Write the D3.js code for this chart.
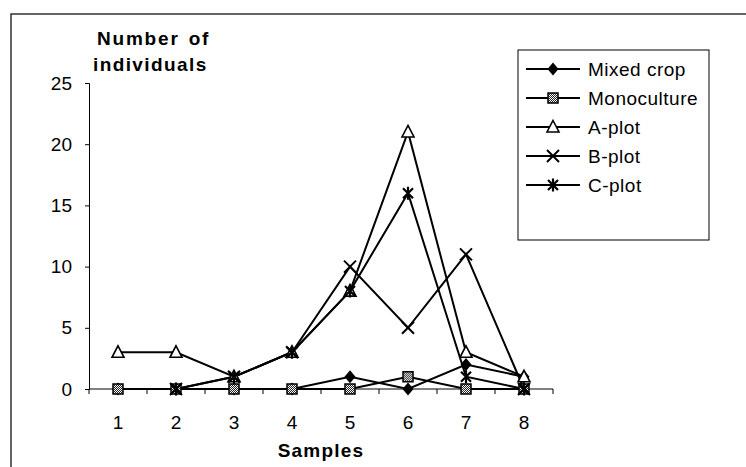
<!DOCTYPE html>
<html>
<head>
<meta charset="utf-8">
<script src="https://cdn.jsdelivr.net/npm/d3@7"></script>
<style>
  body { margin: 0; background: #fff; }
  svg { display: block; font-family: "Liberation Sans", Arial, sans-serif; }
</style>
</head>
<body>
<svg width="746" height="467"></svg>
<script>
const samples = [1, 2, 3, 4, 5, 6, 7, 8];
const mixedCrop   = [0, 0, 0, 0, 1, 0, 2, 1];
const monoculture = [0, 0, 0, 0, 0, 1, 0, 0];
const aPlot       = [3, 3, 1, 3, 8, 21, 3, 1];
const bPlot       = [null, 0, 1, 3, 10, 5, 11, 0];
const cPlot       = [null, 0, 1, 3, 8, 16, 1, 0];
const yTicks = [0, 5, 10, 15, 20, 25];

const series = [
    { name: 'Mixed crop', values: mixedCrop, marker: 'diamond' },
    { name: 'Monoculture', values: monoculture, marker: 'square' },
    { name: 'A-plot', values: aPlot, marker: 'triangle' },
    { name: 'B-plot', values: bPlot, marker: 'cross' },
    { name: 'C-plot', values: cPlot, marker: 'star' }
];

const svg = d3.select('svg');

// checkered fill for the monoculture square
const pat = svg.append('defs').append('pattern')
    .attr('id', 'checker')
    .attr('width', 2).attr('height', 2)
    .attr('patternUnits', 'userSpaceOnUse');
pat.append('rect').attr('width', 2).attr('height', 2).attr('fill', '#fff');
pat.append('rect').attr('width', 1).attr('height', 1).attr('fill', '#222');
pat.append('rect').attr('x', 1).attr('y', 1).attr('width', 1).attr('height', 1).attr('fill', '#222');

// outer frame
svg.append('rect')
    .attr('x', 11).attr('y', 14)
    .attr('width', 800).attr('height', 500)
    .attr('fill', 'none')
    .attr('stroke', '#333')
    .attr('stroke-width', 1.5);

const x = d3.scaleBand().domain(samples).range([89, 553]);
const y = d3.scaleLinear().domain([0, 25]).range([389, 83]);

// y axis
const yAxis = svg.append('g')
    .attr('transform', 'translate(89,0)')
    .call(d3.axisLeft(y).tickValues(yTicks).tickSize(4).tickPadding(13));
yAxis.select('.domain').attr('stroke', '#000');
yAxis.selectAll('text')
    .attr('font-size', 19)
    .attr('fill', '#000')
    .attr('font-family', '"Liberation Sans", Arial, sans-serif');

// x axis, ticks at category boundaries
const xAxis = svg.append('g')
    .attr('transform', 'translate(0,389)');
xAxis.append('line')
    .attr('x1', 89).attr('x2', 553)
    .attr('stroke', '#000');
xAxis.selectAll('.tk')
    .data(samples.concat([null]))
    .enter()
    .append('line')
    .attr('x1', (d, i) => i < samples.length ? x(d) : x(samples[samples.length - 1]) + x.bandwidth())
    .attr('x2', (d, i) => i < samples.length ? x(d) : x(samples[samples.length - 1]) + x.bandwidth())
    .attr('y1', 0).attr('y2', 5)
    .attr('stroke', '#000');
xAxis.selectAll('.lbl')
    .data(samples)
    .enter()
    .append('text')
    .attr('x', d => x(d) + x.bandwidth() / 2)
    .attr('y', 40)
    .attr('text-anchor', 'middle')
    .attr('font-size', 19)
    .text(d => d);

// axis titles
svg.append('text')
    .attr('x', 321).attr('y', 457)
    .attr('text-anchor', 'middle')
    .attr('font-size', 19).attr('font-weight', 'bold')
    .attr('letter-spacing', 1.2)
    .text('Samples');
svg.append('text')
    .attr('x', 97).attr('y', 45)
    .attr('font-size', 19).attr('font-weight', 'bold')
    .attr('letter-spacing', 1.8)
    .attr('word-spacing', 2)
    .text('Number of');
svg.append('text')
    .attr('x', 93).attr('y', 71)
    .attr('font-size', 19).attr('font-weight', 'bold')
    .attr('letter-spacing', 1.4)
    .text('individuals');

function drawMarker(g, type) {
    if (type === 'diamond') {
        g.append('path').attr('d', 'M0,-6.5L5.5,0L0,6.5L-5.5,0Z').attr('fill', '#000');
    } else if (type === 'square') {
        g.append('rect').attr('x', -5).attr('y', -5).attr('width', 10).attr('height', 10)
            .attr('fill', 'url(#checker)').attr('stroke', '#000').attr('stroke-width', 1.5);
    } else if (type === 'triangle') {
        g.append('path').attr('d', 'M0,-6.5L6,5L-6,5Z')
            .attr('fill', '#fff').attr('stroke', '#000').attr('stroke-width', 1.6);
    } else if (type === 'cross') {
        g.append('path').attr('d', 'M-6,-6L6,6M6,-6L-6,6')
            .attr('stroke', '#000').attr('stroke-width', 2).attr('fill', 'none');
    } else if (type === 'star') {
        g.append('path').attr('d', 'M-5,-5L5,5M5,-5L-5,5M0,-6.5L0,6.5')
            .attr('stroke', '#000').attr('stroke-width', 2.2).attr('fill', 'none');
    }
}

const cx = i => x(samples[i]) + x.bandwidth() / 2;

const line = d3.line()
    .defined(d => d != null)
    .x((d, i) => cx(i))
    .y(d => y(d));

// lines first
svg.append('g').selectAll('path')
    .data(series)
    .enter()
    .append('path')
    .attr('d', s => line(s.values))
    .attr('fill', 'none')
    .attr('stroke', '#000')
    .attr('stroke-width', 2);

// markers in series order
series.forEach(s => {
    s.values.forEach((v, i) => {
        if (v == null) return;
        const g = svg.append('g').attr('transform', `translate(${cx(i)},${y(v)})`);
        drawMarker(g, s.marker);
    });
});

// legend
const legend = svg.append('g');
legend.append('rect')
    .attr('x', 518).attr('y', 50)
    .attr('width', 191).attr('height', 190)
    .attr('fill', '#fff')
    .attr('stroke', '#000');
series.forEach((s, i) => {
    const ly = 69 + i * 29;
    legend.append('line')
        .attr('x1', 526).attr('x2', 580)
        .attr('y1', ly).attr('y2', ly)
        .attr('stroke', '#000').attr('stroke-width', 2);
    drawMarker(legend.append('g').attr('transform', `translate(553,${ly})`), s.marker);
    legend.append('text')
        .attr('x', 588).attr('y', ly)
        .attr('dy', '0.36em')
        .attr('font-size', 19)
        .attr('letter-spacing', 0.5)
        .text(s.name);
});
</script>
</body>
</html>
